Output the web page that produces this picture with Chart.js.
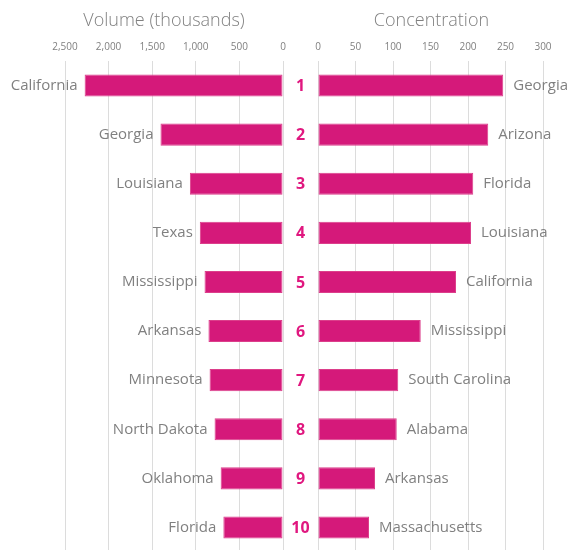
<!DOCTYPE html>
<html>
<head>
<meta charset="utf-8">
<script src="https://cdn.jsdelivr.net/npm/chart.js@4/dist/chart.umd.min.js"></script>
<style>
  html, body { margin: 0; padding: 0; background: #fff; overflow: hidden; }
  #wrap { position: relative; width: 570px; height: 555px; }
  #wrap canvas { position: absolute; left: 0; top: 0; }
</style>
</head>
<body>
<div id="wrap">
  <canvas id="volumeChart" width="570" height="555"></canvas>
  <canvas id="concChart" width="570" height="555"></canvas>
</div>
<script>
// Rank positions shown in the middle column
const ranks = ['1', '2', '3', '4', '5', '6', '7', '8', '9', '10'];

// Left panel: volume (thousands)
const volumeStates = ['California', 'Georgia', 'Louisiana', 'Texas', 'Mississippi',
                      'Arkansas', 'Minnesota', 'North Dakota', 'Oklahoma', 'Florida'];
const volumeValues = [2275, 1405, 1068, 954, 900, 855, 842, 785, 715, 684];

// Right panel: concentration
const concStates = ['Georgia', 'Arizona', 'Florida', 'Louisiana', 'California',
                    'Mississippi', 'South Carolina', 'Alabama', 'Arkansas', 'Massachusetts'];
const concValues = [247, 227, 207, 204, 184, 137, 107, 105, 76, 68];

const barColor = '#d5197a';
const rankColor = '#e0177f';
const textGray = '#808080';
const gridGray = '#dcdcdc';
const fontFamily = '"Open Sans", "Noto Sans", sans-serif';

// Draws the state names beside bar ends, the panel title and (optionally) rank numbers
const panelDecor = {
    id: 'panelDecor',
    afterDatasetsDraw(chart, args, opts) {
        const { ctx, chartArea } = chart;
        const meta = chart.getDatasetMeta(0);
        ctx.save();

        // panel title
        ctx.font = '300 18px ' + fontFamily;
        ctx.fillStyle = textGray;
        ctx.textAlign = 'center';
        ctx.textBaseline = 'middle';
        ctx.fillText(opts.title, (chartArea.left + chartArea.right) / 2 + opts.titleShift, 21);

        // state names
        ctx.font = '15px ' + fontFamily;
        ctx.textBaseline = 'middle';
        meta.data.forEach((bar, i) => {
            const label = chart.data.labels[i];
            if (opts.side === 'left') {
                ctx.textAlign = 'right';
                ctx.fillText(label, bar.x - 7, bar.y);
            } else {
                ctx.textAlign = 'left';
                ctx.fillText(label, bar.x + 10, bar.y);
            }
        });

        // rank numbers in the gap between panels
        if (opts.ranks) {
            ctx.font = 'bold 16px ' + fontFamily;
            ctx.fillStyle = rankColor;
            ctx.textAlign = 'center';
            meta.data.forEach((bar, i) => {
                ctx.fillText(opts.ranks[i], chartArea.right + 17.5, bar.y + 1);
            });
        }
        ctx.restore();
    }
};

function makeOptions(side, max, step, padding, decor) {
    return {
        indexAxis: 'y',
        responsive: false,
        animation: false,
        layout: { padding: padding },
        scales: {
            x: {
                position: 'top',
                reverse: side === 'left',
                min: 0,
                max: max,
                border: { display: false },
                grid: { color: gridGray, drawTicks: false, lineWidth: 1 },
                ticks: {
                    stepSize: step,
                    padding: 8,
                    color: textGray,
                    font: { size: 10, family: fontFamily },
                    callback: v => v.toLocaleString('en-US')
                }
            },
            y: { display: false }
        },
        plugins: {
            legend: { display: false },
            tooltip: { enabled: false },
            panelDecor: decor
        }
    };
}

new Chart(document.getElementById('volumeChart'), {
    type: 'bar',
    data: {
        labels: volumeStates,
        datasets: [{
            data: volumeValues,
            backgroundColor: barColor,
            borderColor: '#dc3f8b',
            borderWidth: 1,
            borderSkipped: false,
            barPercentage: 0.45,
            categoryPercentage: 1
        }]
    },
    options: makeOptions('left', 2500, 500,
        { left: 65, right: 287, top: 33, bottom: 3 },
        { side: 'left', title: 'Volume (thousands)', titleShift: -10, ranks: ranks }),
    plugins: [panelDecor]
});

new Chart(document.getElementById('concChart'), {
    type: 'bar',
    data: {
        labels: concStates,
        datasets: [{
            data: concValues,
            backgroundColor: barColor,
            borderColor: '#dc3f8b',
            borderWidth: 1,
            borderSkipped: false,
            barPercentage: 0.45,
            categoryPercentage: 1
        }]
    },
    options: makeOptions('right', 300, 50,
        { left: 318, right: 27, top: 33, bottom: 3 },
        { side: 'right', title: 'Concentration', titleShift: 1 }),
    plugins: [panelDecor]
});
</script>
</body>
</html>
